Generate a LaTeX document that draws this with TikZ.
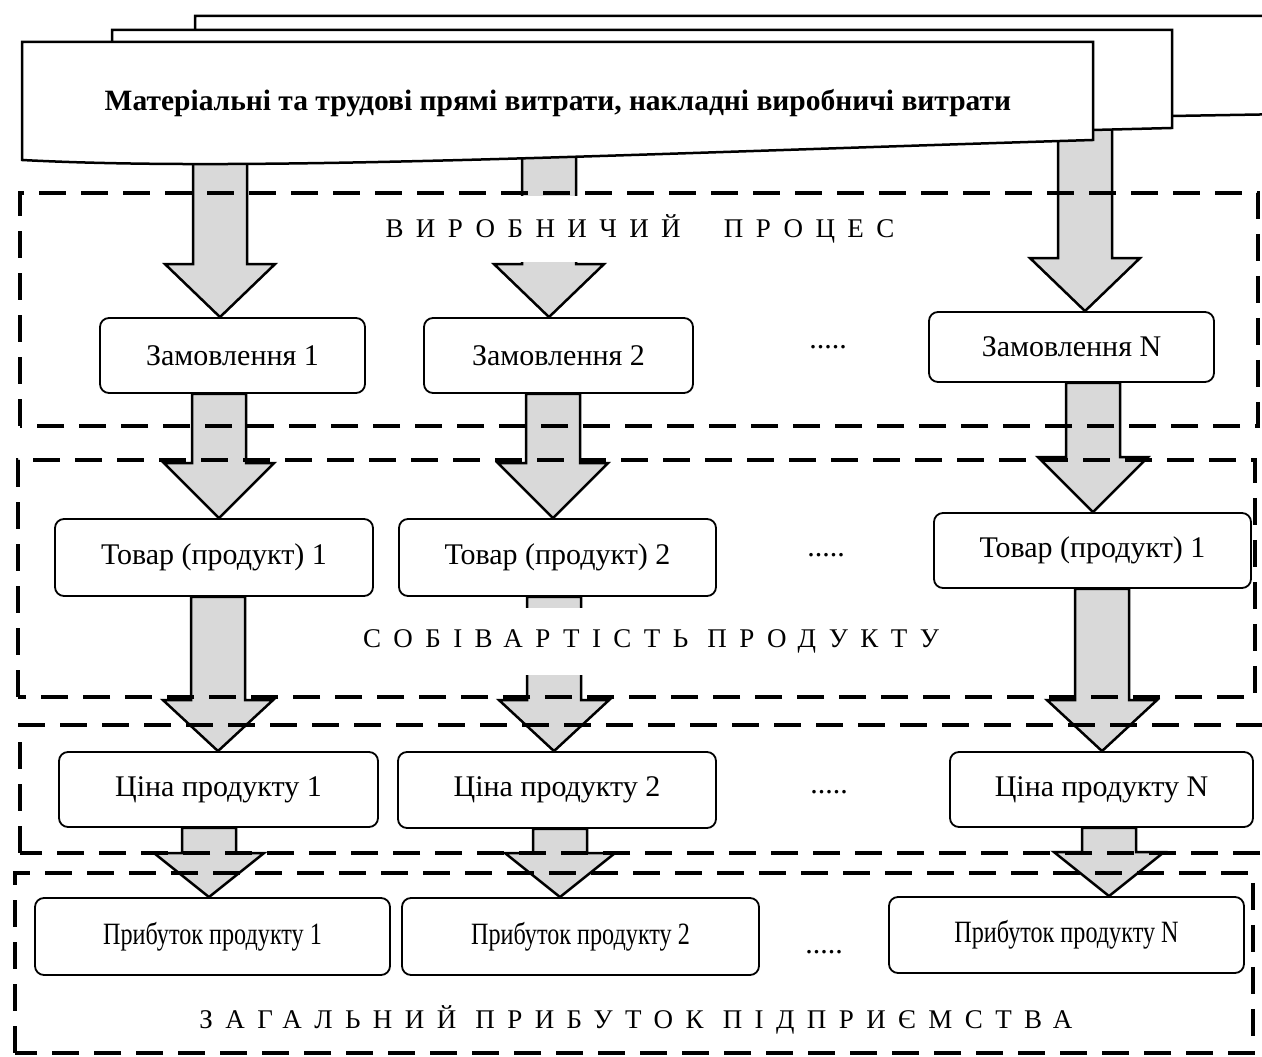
\documentclass[tikz,border=0pt]{standalone}
\usepackage{fontspec}
\setmainfont{Liberation Serif}
\newfontfamily\narrowserif{Liberation Serif}[FakeStretch=0.78]
\usetikzlibrary{calc}
\pgfdeclarelayer{under}
\pgfsetlayers{under,main}

% fat grey arrow: x-centre, source point, target node, head length
\newcommand{\fatarrow}[4]{%
  \draw[fat] let \p1=(#2), \p2=(#3.north) in
    ({#1pt-27pt},\y1) -- ({#1pt+27pt},\y1) -- ({#1pt+27pt},{\y2+#4pt})
    -- ({#1pt+55pt},{\y2+#4pt}) -- (#1pt,\y2) -- ({#1pt-55pt},{\y2+#4pt})
    -- ({#1pt-27pt},{\y2+#4pt}) -- cycle;}

\begin{document}
\begin{tikzpicture}[x=1pt, y=1pt,
	box/.style = {draw, rounded corners=9pt, line width=1.8pt, fill=white, inner sep=2pt, font=\fontsize{30}{34}\selectfont},
	pbox/.style = {box, font=\narrowserif\fontsize{31}{34}\selectfont},
	frame/.style = {draw, line width=4.5pt, dash pattern=on 27pt off 15pt},
	caption/.style = {inner sep=0pt, fill=white, font=\fontsize{27}{30}\selectfont\addfontfeature{LetterSpace=46}},
	dots/.style = {anchor=base, inner sep=0pt, font=\fontsize{30}{34}\selectfont},
	fat/.style = {draw, fill=gray!30, line width=2.5pt},
	doc/.style = {draw, fill=white, line width=2.5pt}]
	\useasboundingbox (0,0) rectangle (1262,1057);

	% stacked documents
	\draw[doc] (195,1041) -- (1290,1041) -- (1290,943) -- (1172,941) -- (195,941) -- cycle;
	\draw[doc] (112,1027) -- (1172,1027) -- (1172,929) -- (1093,927) -- (112,927) -- cycle;
	\draw[doc] (22,1015) -- (1093,1015) -- (1093,917) .. controls (600,902) and (250,885) .. (22,897) -- cycle;
	\node[font=\bfseries\fontsize{29.5}{34}\selectfont] (costs) at (558,954) {Матеріальні та трудові прямі витрати, накладні виробничі витрати};

	% dashed zones
	\draw[frame] (20,631) rectangle (1258,864);
	\draw[frame] (18,360) rectangle (1255,597);
	\draw[frame] (20,204) rectangle (1268,332);
	\draw[frame] (15,4) rectangle (1253,184);
	\node[caption, minimum height=66pt] (process) at (640,828) {ВИРОБНИЧИЙ\hspace{1.6em}ПРОЦЕС};
	\node[caption, minimum height=67pt] (cost) at (651,415.5) {СОБІВАРТІСТЬ ПРОДУКТУ};
	\node[caption] (profit) at (636,37) {ЗАГАЛЬНИЙ ПРИБУТОК ПІДПРИЄМСТВА};

	% orders
	\node[box, minimum width=265pt, minimum height=75pt] (z1) at (232.5,701.5) {Замовлення 1};
	\node[box, minimum width=269pt, minimum height=75pt] (z2) at (558.5,701.5) {Замовлення 2};
	\node[box, minimum width=285pt, minimum height=70pt] (zN) at (1071.5,710) {Замовлення N};
	\node[dots] (zdots) at (828,708) {.....};

	% products
	\node[box, minimum width=318pt, minimum height=77pt] (t1) at (214,499.5) {Товар (продукт) 1};
	\node[box, minimum width=317pt, minimum height=77pt] (t2) at (557.5,499.5) {Товар (продукт) 2};
	\node[box, minimum width=317pt, minimum height=75pt] (tN) at (1092.5,506.5) {Товар (продукт) 1};
	\node[dots] (tdots) at (826,500) {.....};

	% prices
	\node[box, minimum width=319pt, minimum height=75pt] (c1) at (218.5,267.5) {Ціна продукту 1};
	\node[box, minimum width=318pt, minimum height=76pt] (c2) at (557,267) {Ціна продукту 2};
	\node[box, minimum width=303pt, minimum height=75pt] (cN) at (1101.5,267.5) {Ціна продукту N};
	\node[dots] (cdots) at (829,263) {.....};

	% profits
	\node[pbox, minimum width=355pt, minimum height=77pt] (p1) at (212.5,120.5) {Прибуток продукту 1};
	\node[pbox, minimum width=357pt, minimum height=77pt] (p2) at (580.5,120.5) {Прибуток продукту 2};
	\node[pbox, minimum width=355pt, minimum height=76pt] (pN) at (1066.5,122) {Прибуток продукту N};
	\node[dots] (pdots) at (824,103) {.....};

	\begin{pgfonlayer}{under}
	\fatarrow{220}{costs}{z1}{53}
	\fatarrow{549}{costs}{z2}{53}
	\fatarrow{1085}{costs}{zN}{53}
	\fatarrow{219}{z1.south}{t1}{55}
	\fatarrow{553}{z2.south}{t2}{55}
	\fatarrow{1093}{zN.south}{tN}{55}
	\fatarrow{218}{t1.south}{c1}{51}
	\fatarrow{554}{t2.south}{c2}{51}
	\fatarrow{1102}{tN.south}{cN}{51}
	\fatarrow{209}{c1.south}{p1}{44}
	\fatarrow{560}{c2.south}{p2}{44}
	\fatarrow{1109}{cN.south}{pN}{44}
	\end{pgfonlayer}
\end{tikzpicture}
\end{document}
